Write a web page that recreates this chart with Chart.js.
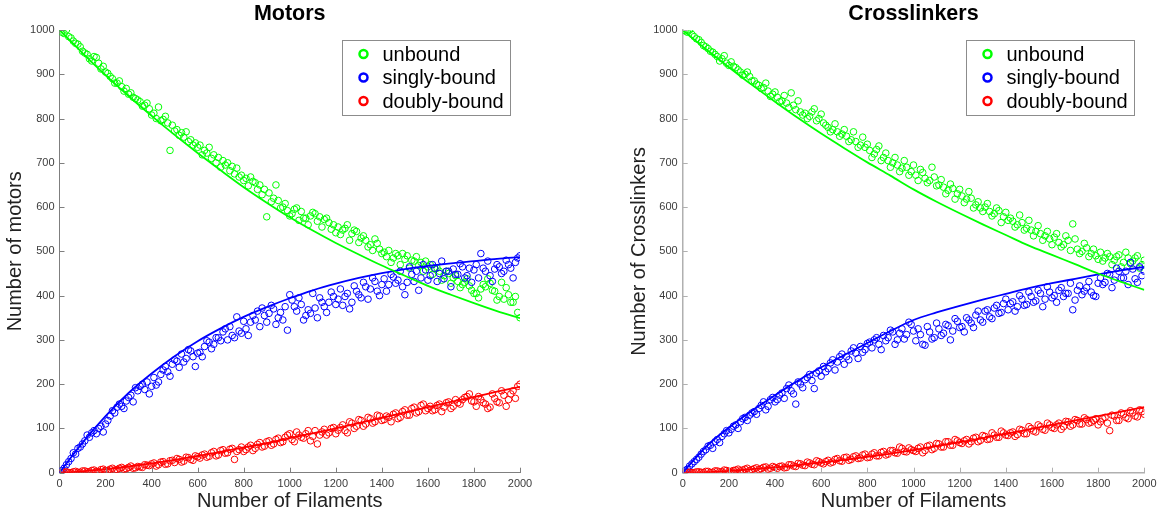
<!DOCTYPE html>
<html>
<head>
<meta charset="utf-8">
<script src="https://cdn.jsdelivr.net/npm/chart.js@4.4.1/dist/chart.umd.min.js"></script>
<style>
  html, body { margin: 0; padding: 0; background: #fff; width: 1163px; height: 517px; overflow: hidden; }
  .panel { position: absolute; top: 0; height: 517px; }
  #motorsBox { left: 0; width: 580px; }
  #crossBox { left: 620px; width: 543px; }
</style>
</head>
<body>
<div class="panel" id="motorsBox"><canvas id="motorsChart"></canvas></div>
<div class="panel" id="crossBox"><canvas id="crossChart"></canvas></div>
<script>
// x positions of the scatter samples (number of filaments), two interleaved runs
const filaments = [
  10, 30, 50, 70, 90, 110, 130, 150, 170, 190,
  210, 230, 250, 270, 290, 310, 330, 350, 370, 390,
  410, 430, 450, 470, 490, 510, 530, 550, 570, 590,
  610, 630, 650, 670, 690, 710, 730, 750, 770, 790,
  810, 830, 850, 870, 890, 910, 930, 950, 970, 990,
  1010, 1030, 1050, 1070, 1090, 1110, 1130, 1150, 1170, 1190,
  1210, 1230, 1250, 1270, 1290, 1310, 1330, 1350, 1370, 1390,
  1410, 1430, 1450, 1470, 1490, 1510, 1530, 1550, 1570, 1590,
  1610, 1630, 1650, 1670, 1690, 1710, 1730, 1750, 1770, 1790,
  1810, 1830, 1850, 1870, 1890, 1910, 1930, 1950, 1970, 1990
];
const filamentsB = [
  20, 40, 60, 80, 100, 120, 140, 160, 180, 200,
  220, 240, 260, 280, 300, 320, 340, 360, 380, 400,
  420, 440, 460, 480, 500, 520, 540, 560, 580, 600,
  620, 640, 660, 680, 700, 720, 740, 760, 780, 800,
  820, 840, 860, 880, 900, 920, 940, 960, 980, 1000,
  1020, 1040, 1060, 1080, 1100, 1120, 1140, 1160, 1180, 1200,
  1220, 1240, 1260, 1280, 1300, 1320, 1340, 1360, 1380, 1400,
  1420, 1440, 1460, 1480, 1500, 1520, 1540, 1560, 1580, 1600,
  1620, 1640, 1660, 1680, 1700, 1720, 1740, 1760, 1780, 1800,
  1820, 1840, 1860, 1880, 1900, 1920, 1940, 1960, 1980, 2000
];
// x positions of the fitted curves
const fitFilaments = [0, 100, 200, 300, 400, 500, 600, 700, 800, 900, 1000,
  1100, 1200, 1300, 1400, 1500, 1600, 1700, 1800, 1900, 2000];

const seriesLabels = ['unbound', 'singly-bound', 'doubly-bound'];
const seriesColors = ['#00ff00', '#0000ff', '#ff0000'];

// Motors
const motorsUnbound = [
  995, 1000, 982, 970, 962, 948, 935, 940, 925, 918,
  902, 890, 880, 872, 868, 858, 845, 838, 830, 822,
  812, 826, 798, 790, 785, 775, 768, 770, 752, 745,
  740, 728, 735, 718, 712, 705, 700, 692, 688, 672,
  665, 668, 655, 650, 640, 632, 620, 615, 600, 592,
  585, 598, 590, 575, 580, 585, 578, 572, 565, 560,
  555, 548, 560, 540, 545, 530, 525, 515, 528, 505,
  498, 502, 485, 490, 495, 490, 480, 488, 475, 478,
  470, 460, 455, 445, 450, 440, 432, 425, 438, 412,
  405, 415, 420, 428, 410, 398, 392, 402, 385, 362
];
const motorsUnboundB = [
  992, 985, 975, 968, 952, 945, 930, 938, 912, 905,
  895, 880, 885, 862, 855, 848, 842, 828, 835, 808,
  800, 795, 805, 728, 772, 762, 758, 748, 740, 735,
  718, 722, 710, 700, 690, 695, 682, 675, 668, 660,
  648, 658, 640, 628, 578, 612, 650, 598, 608, 580,
  595, 570, 575, 560, 588, 568, 555, 575, 550, 542,
  538, 552, 525, 548, 520, 535, 510, 502, 518, 495,
  488, 475, 495, 470, 482, 462, 478, 468, 455, 465,
  448, 462, 435, 455, 428, 445, 418, 430, 422, 405,
  395, 425, 438, 412, 390, 430, 418, 385, 398, 350
];
const motorsSingly = [
  5, 18, 32, 42, 58, 72, 80, 95, 100, 92,
  118, 140, 148, 150, 162, 175, 192, 195, 188, 178,
  215, 205, 232, 228, 245, 252, 268, 258, 275, 240,
  272, 285, 295, 290, 305, 318, 300, 310, 352, 315,
  325, 340, 345, 330, 355, 360, 370, 350, 345, 322,
  390, 365, 380, 355, 360, 372, 395, 375, 385, 398,
  392, 378, 405, 385, 410, 395, 420, 415, 432, 400,
  438, 425, 442, 435, 420, 430, 448, 455, 440, 458,
  445, 462, 450, 438, 455, 460, 448, 465, 445, 430,
  470, 495, 455, 445, 460, 465, 455, 470, 440, 485
];
const motorsSinglyB = [
  10, 25, 45, 55, 65, 85, 90, 88, 105, 110,
  128, 135, 155, 145, 170, 160, 185, 200, 205, 195,
  198, 222, 240, 218, 255, 238, 250, 278, 262, 270,
  262, 298, 280, 305, 298, 325, 330, 305, 320, 342,
  310, 355, 365, 372, 340, 378, 335, 362, 375, 402,
  375, 395, 345, 368, 405, 350, 385, 362, 408, 380,
  415, 398, 370, 422, 402, 430, 392, 440, 410, 425,
  410, 448, 428, 455, 402, 465, 432, 412, 470, 435,
  470, 432, 478, 455, 420, 448, 472, 440, 462, 458,
  440, 462, 478, 432, 470, 450, 480, 462, 475, 490
];
const motorsDoubly = [
  0, 2, 0, 3, 1, 4, 2, 6, 3, 8,
  5, 10, 7, 12, 9, 15, 11, 13, 18, 16,
  22, 18, 25, 20, 28, 32, 24, 35, 30, 38,
  33, 42, 37, 48, 40, 52, 45, 55, 48, 58,
  52, 62, 55, 68, 60, 72, 65, 78, 70, 85,
  75, 92, 80, 88, 72, 95, 85, 98, 90, 102,
  96, 108, 90, 112, 105, 118, 110, 122, 115, 128,
  120, 125, 132, 122, 138, 130, 145, 135, 152, 140,
  150, 142, 155, 148, 160, 150, 158, 165, 172, 162,
  150, 165, 155, 148, 168, 158, 175, 165, 185, 195
];
const motorsDoublyB = [
  1, 0, 2, 1, 4, 2, 5, 3, 7, 5,
  8, 6, 10, 8, 12, 10, 14, 12, 17, 20,
  15, 24, 19, 27, 23, 30, 26, 34, 28, 36,
  40, 35, 45, 38, 50, 44, 53, 30, 52, 48,
  58, 50, 64, 58, 70, 62, 75, 68, 80, 88,
  70, 85, 78, 95, 82, 65, 92, 85, 100, 88,
  102, 95, 115, 100, 120, 105, 125, 112, 130, 118,
  128, 115, 135, 125, 142, 130, 148, 138, 155, 145,
  140, 152, 138, 158, 145, 165, 155, 170, 178, 160,
  172, 158, 145, 178, 160, 185, 150, 178, 168, 200
];
const motorsUnboundFit = [1000, 948, 898, 851, 806, 763, 722, 683, 645, 610, 577,
  547, 519, 493, 468, 445, 422, 402, 383, 365, 349];
const motorsSinglyFit = [0, 68, 128, 180, 224, 263, 297, 326, 352, 374, 394,
  412, 427, 440, 451, 460, 467, 473, 478, 483, 487];
const motorsDoublyFit = [0, 3, 8, 14, 21, 29, 38, 47, 57, 67, 78,
  89, 100, 112, 124, 136, 148, 160, 171, 183, 194];

// Crosslinkers
const crossUnbound = [
  998, 1000, 985, 978, 965, 958, 950, 940, 935, 925,
  928, 915, 905, 900, 895, 885, 875, 870, 862, 855,
  848, 840, 835, 858, 820, 815, 812, 805, 822, 800,
  790, 780, 775, 770, 765, 760, 752, 748, 740, 735,
  728, 720, 738, 712, 705, 700, 695, 688, 690, 680,
  672, 685, 665, 660, 668, 650, 645, 638, 642, 630,
  625, 618, 620, 605, 598, 600, 590, 585, 592, 578,
  570, 568, 560, 565, 552, 548, 545, 540, 535, 528,
  532, 520, 515, 525, 562, 505, 500, 508, 495, 490,
  498, 485, 488, 480, 492, 475, 485, 478, 490, 470
];
const crossUnboundB = [
  995, 990, 980, 972, 962, 952, 945, 930, 942, 920,
  918, 910, 898, 905, 885, 878, 868, 880, 850, 860,
  838, 852, 825, 830, 840, 808, 800, 815, 795, 810,
  785, 770, 788, 760, 775, 748, 770, 735, 758, 742,
  712, 730, 705, 722, 690, 712, 680, 705, 672, 695,
  660, 678, 655, 690, 648, 662, 630, 652, 618, 640,
  610, 635, 598, 612, 590, 608, 580, 598, 565, 588,
  575, 555, 582, 548, 570, 535, 558, 525, 545, 515,
  540, 510, 535, 502, 528, 495, 518, 488, 505, 482,
  478, 495, 470, 488, 465, 498, 472, 485, 462, 480
];
const crossSingly = [
  4, 15, 25, 35, 48, 60, 55, 75, 82, 95,
  98, 108, 115, 125, 130, 138, 145, 160, 150, 170,
  165, 180, 190, 185, 155, 200, 210, 222, 190, 230,
  240, 235, 255, 250, 268, 262, 275, 270, 285, 278,
  295, 300, 290, 310, 305, 318, 300, 325, 312, 335,
  298, 312, 288, 318, 305, 325, 315, 332, 320, 342,
  330, 350, 338, 356, 345, 365, 352, 372, 360, 382,
  368, 386, 375, 392, 380, 398, 388, 405, 392, 408,
  400, 412, 398, 405, 368, 412, 402, 418, 408, 398,
  440, 430, 448, 435, 455, 440, 425, 460, 430, 445
];
const crossSinglyB = [
  8, 20, 30, 42, 52, 62, 70, 68, 88, 90,
  105, 100, 122, 118, 135, 132, 152, 142, 165, 160,
  175, 168, 198, 178, 205, 192, 215, 208, 225, 218,
  228, 248, 232, 262, 245, 255, 282, 258, 272, 292,
  282, 305, 278, 298, 322, 290, 315, 302, 340, 320,
  325, 290, 330, 302, 338, 310, 335, 300, 348, 328,
  318, 345, 328, 365, 340, 368, 348, 378, 362, 392,
  382, 365, 400, 378, 408, 385, 412, 375, 420, 395,
  385, 418, 405, 428, 390, 422, 410, 432, 400, 428,
  425, 450, 418, 462, 440, 455, 475, 438, 465, 455
];
const crossDoubly = [
  0, 1, 0, 2, 0, 3, 1, 4, 2, 5,
  3, 6, 4, 8, 5, 9, 7, 12, 8, 14,
  10, 15, 12, 18, 14, 20, 16, 22, 18, 25,
  20, 28, 24, 32, 26, 35, 30, 38, 33, 42,
  35, 45, 38, 48, 42, 50, 44, 55, 47, 52,
  48, 58, 50, 62, 55, 65, 58, 70, 62, 72,
  66, 75, 70, 80, 73, 82, 76, 85, 80, 90,
  84, 92, 86, 96, 88, 100, 92, 104, 96, 108,
  100, 112, 104, 115, 108, 118, 110, 120, 114, 122,
  115, 125, 95, 128, 118, 132, 122, 135, 126, 138
];
const crossDoublyB = [
  1, 0, 2, 1, 3, 0, 4, 2, 6, 3,
  5, 8, 6, 10, 7, 11, 9, 13, 10, 12,
  14, 11, 18, 15, 21, 17, 24, 19, 27, 22,
  25, 22, 30, 27, 34, 28, 36, 32, 40, 34,
  42, 38, 46, 40, 50, 45, 58, 48, 56, 50,
  55, 45, 60, 52, 66, 58, 70, 62, 75, 68,
  72, 65, 78, 70, 84, 75, 90, 80, 94, 85,
  90, 82, 98, 88, 104, 94, 108, 98, 112, 102,
  108, 98, 116, 105, 120, 110, 124, 112, 118, 108,
  122, 112, 130, 118, 135, 125, 140, 128, 142, 132
];
const crossUnboundFit = [1000, 957, 916, 876, 838, 801, 766, 733, 701, 671, 640,
  612, 586, 561, 537, 513, 492, 471, 450, 431, 413];
const crossSinglyFit = [0, 58, 102, 140, 175, 208, 238, 266, 293, 320, 345,
  362, 377, 391, 404, 417, 428, 438, 448, 457, 465];
const crossDoublyFit = [0, 1, 4, 8, 12, 17, 23, 29, 36, 43, 51,
  60, 69, 78, 88, 98, 108, 118, 128, 138, 148];

const FONT = '"Liberation Sans", Arial, Helvetica, sans-serif';
const TICK_COLOR = '#3c3c3c';

// MATLAB style tick marks pointing into the axes
const innerTicks = {
  id: 'innerTicks',
  afterDatasetsDraw(chart, args, opts) {
    const { ctx, chartArea: area } = chart;
    const xs = chart.scales.x, ys = chart.scales.y;
    ctx.save();
    ctx.strokeStyle = opts.color;
    ctx.lineWidth = 1;
    ctx.beginPath();
    xs.ticks.forEach(t => {
      const px = Math.round(xs.getPixelForValue(t.value)) + 0.5;
      ctx.moveTo(px, area.bottom);
      ctx.lineTo(px, area.bottom - 5);
    });
    ys.ticks.forEach(t => {
      const py = Math.round(ys.getPixelForValue(t.value)) + 0.5;
      ctx.moveTo(area.left, py);
      ctx.lineTo(area.left + 5, py);
    });
    ctx.stroke();
    ctx.restore();
  }
};

// boxed legend in the upper right corner of the axes
const boxLegend = {
  id: 'boxLegend',
  afterDraw(chart) {
    const { ctx, chartArea: area } = chart;
    const items = chart.data.datasets.filter(d => d.label);
    const w = 168, h = 75;
    const x0 = Math.round(area.right - 10 - w), y0 = Math.round(area.top + 10);
    ctx.save();
    ctx.fillStyle = '#fff';
    ctx.fillRect(x0, y0, w, h);
    ctx.strokeStyle = '#8c8c8c';
    ctx.lineWidth = 1;
    ctx.strokeRect(x0 + 0.5, y0 + 0.5, w, h);
    ctx.font = '20px ' + FONT;
    ctx.textBaseline = 'middle';
    items.forEach((d, i) => {
      const cy = y0 + 14 + i * 23.5;
      ctx.beginPath();
      ctx.arc(x0 + 21.5, cy, 4, 0, Math.PI * 2);
      ctx.strokeStyle = d.borderColor;
      ctx.lineWidth = 2.5;
      ctx.stroke();
      ctx.fillStyle = '#000';
      ctx.fillText(d.label, x0 + 40.5, cy + 1);
    });
    ctx.restore();
  }
};

function toPoints(xs, ys) {
  return xs.map((x, j) => ({ x: x, y: ys[j] }));
}

function buildPanel(canvasId, cfg) {
  const datasets = [];
  cfg.fits.forEach((fit, i) => {
    datasets.push({
      data: toPoints(fitFilaments, fit),
      showLine: true,
      borderColor: seriesColors[i],
      borderWidth: 1.8,
      pointRadius: 0,
      cubicInterpolationMode: 'monotone',
      order: 0
    });
  });
  cfg.values.forEach((runs, i) => {
    datasets.push({
      label: seriesLabels[i],
      data: toPoints(filaments, runs[0]).concat(toPoints(filamentsB, runs[1])),
      showLine: false,
      borderColor: seriesColors[i],
      backgroundColor: 'rgba(0,0,0,0)',
      pointRadius: 3.3,
      pointBorderWidth: 1,
      order: 3 - i
    });
  });

  return new Chart(document.getElementById(canvasId), {
    type: 'scatter',
    data: { datasets: datasets },
    plugins: [innerTicks, boxLegend],
    options: {
      responsive: true,
      maintainAspectRatio: false,
      animation: false,
      events: [],
      layout: { padding: { left: 0, top: 0, bottom: 0, right: cfg.padRight } },
      plugins: {
        legend: { display: false },
        tooltip: { enabled: false },
        title: {
          display: true,
          text: cfg.title,
          fullSize: false,
          color: '#000',
          font: { family: FONT, size: 21.5, weight: 'bold' },
          padding: { top: 1, bottom: 3.2 }
        },
        innerTicks: { color: cfg.axisColor }
      },
      scales: {
        x: {
          type: 'linear',
          min: 0,
          max: 2000,
          afterFit(scale) { scale.height = 44.3; },
          border: { display: true, color: cfg.axisColor, width: cfg.axisWidth },
          grid: { drawOnChartArea: false, drawTicks: false },
          ticks: {
            stepSize: 200, padding: 5, maxRotation: 0, autoSkip: false,
            format: { useGrouping: false },
            color: TICK_COLOR, font: { family: FONT, size: 11 }
          },
          title: { display: true, text: 'Number of Filaments', color: '#222', font: { family: FONT, size: 20 }, padding: { top: 0, bottom: 4 } }
        },
        y: {
          type: 'linear',
          min: 0,
          max: 1000,
          afterFit(scale) { scale.width = cfg.yWidth; },
          border: { display: true, color: cfg.axisColor, width: cfg.axisWidth },
          grid: { drawOnChartArea: false, drawTicks: false },
          ticks: {
            stepSize: 100, padding: 5,
            format: { useGrouping: false },
            color: TICK_COLOR, font: { family: FONT, size: 11 }
          },
          title: { display: true, text: cfg.yTitle, color: '#222', font: { family: FONT, size: 20 }, padding: { top: cfg.yTitlePad, bottom: 0 } }
        }
      }
    }
  });
}

buildPanel('motorsChart', {
  title: 'Motors',
  yTitle: 'Number of motors',
  values: [[motorsUnbound, motorsUnboundB], [motorsSingly, motorsSinglyB], [motorsDoubly, motorsDoublyB]],
  fits: [motorsUnboundFit, motorsSinglyFit, motorsDoublyFit],
  yWidth: 59.5,
  yTitlePad: 3.5,
  padRight: 60,
  axisColor: '#7f7f7f',
  axisWidth: 1
});

buildPanel('crossChart', {
  title: 'Crosslinkers',
  yTitle: 'Number of Crosslinkers',
  values: [[crossUnbound, crossUnboundB], [crossSingly, crossSinglyB], [crossDoubly, crossDoublyB]],
  fits: [crossUnboundFit, crossSinglyFit, crossDoublyFit],
  yWidth: 62.7,
  yTitlePad: 7.5,
  padRight: 18.7,
  axisColor: '#b0b0b0',
  axisWidth: 1.5
});
</script>
</body>
</html>
